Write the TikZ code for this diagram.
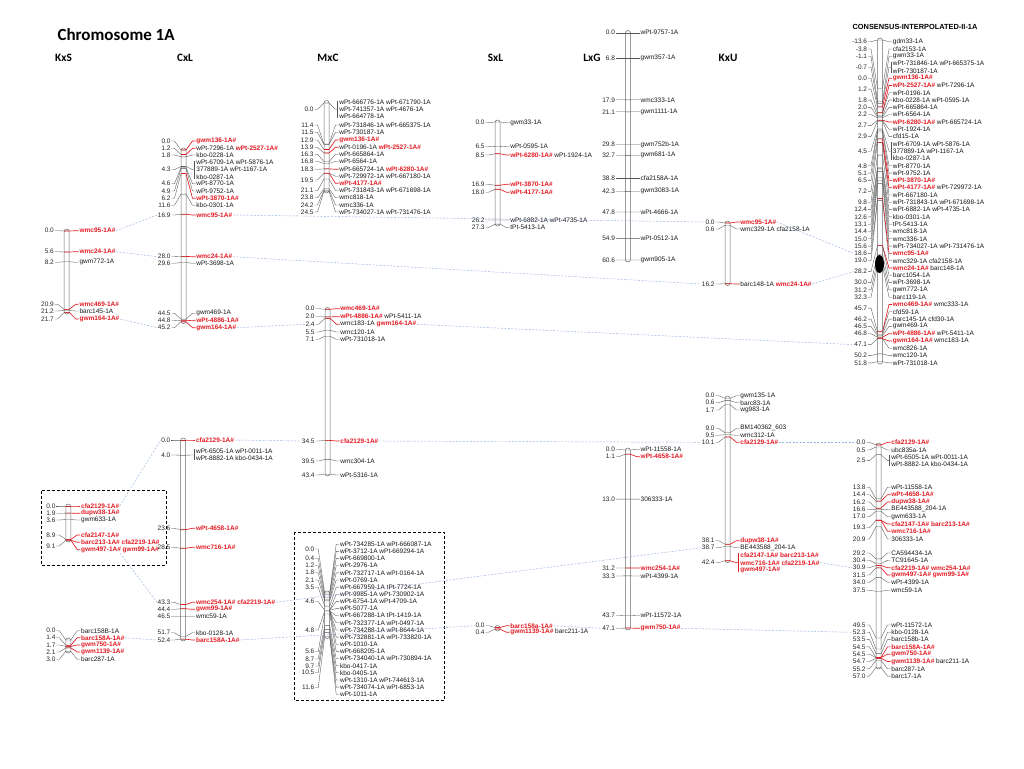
\documentclass[tikz,border=0pt]{standalone}
\usepackage{fontspec}
\setmainfont{Liberation Sans}
\newfontfamily\calibfont{Carlito}
\definecolor{mred}{RGB}{226,28,36}
\definecolor{lkc}{RGB}{85,85,85}
\definecolor{chc}{RGB}{105,105,105}
\definecolor{blu}{RGB}{150,178,222}
\newcommand{\Rm}[1]{\textcolor{mred}{\bfseries #1}}
\newcount\nid
\tikzset{
  posl/.style={anchor=east,font=\fontsize{6.5}{7}\selectfont,inner sep=0.4pt,text=black!85},
  nml/.style={anchor=west,font=\fontsize{6.5}{7}\selectfont,inner sep=0.4pt,text=black!90},
  lk/.style={draw=lkc,line width=0.35pt},
  rlk/.style={draw=mred,line width=0.65pt},
  chr/.style={draw=chc,line width=0.5pt,fill=white,rounded corners=2.4pt},
  link/.style={draw=blu,line width=0.45pt,dash pattern=on 2pt off 1.5pt},
  hdr/.style={font=\calibfont\bfseries\fontsize{11.3}{13}\selectfont},
  dbox/.style={draw=black,line width=0.9pt,dash pattern=on 3pt off 2pt}
}
\newcommand{\setmap}[3]{\def\mX{#1}\def\mT{#2}\def\mS{#3}}
\newcommand{\chrom}[2]{\draw[chr] ({\mX-2.5},#1) rectangle ({\mX+2.5},#2);}
% position label: [opts]{cM}{label y}
\newcommand{\pl}[3][]{%
  \pgfmathsetmacro\tky{\mT+(#2)*\mS}%
  \global\advance\nid by 1
  \draw[lk] ({\mX-12},#3) -- ({\mX-9},#3) -- ({\mX-2.5},\tky) -- ({\mX+2.5},\tky);
  \node[posl,name=p\the\nid,#1] at ({\mX-12.3},#3) {#2};}
% black name: [opts]{cM}{name y}{text}
\newcommand{\nl}[4][]{%
  \pgfmathsetmacro\tky{\mT+(#2)*\mS}%
  \global\advance\nid by 1
  \draw[lk] ({\mX+2.5},\tky) -- ({\mX+9},#3) -- ({\mX+12},#3);
  \node[nml,name=n\the\nid,#1] at ({\mX+12.3},#3) {#4};}
% red name
\newcommand{\rl}[4][]{%
  \pgfmathsetmacro\tky{\mT+(#2)*\mS}%
  \global\advance\nid by 1
  \draw[rlk] ({\mX-2.5},\tky) -- ({\mX+2.5},\tky) -- ({\mX+9},#3) -- ({\mX+12},#3);
  \node[nml,name=n\the\nid,#1] at ({\mX+12.3},#3) {#4};}
% bracket: [style]{cM}{ytop}{ybot}{ymid}
\newcommand{\br}[5][lk]{%
  \pgfmathsetmacro\tky{\mT+(#2)*\mS}%
  \draw[#1] ({\mX-2.5},\tky) -- ({\mX+2.5},\tky) -- ({\mX+9},#5) -- ({\mX+11},#5);
  \draw[#1] ({\mX+11},{#3-1.8}) -- ({\mX+11},{#4+1.8});}
% plain name text
\newcommand{\nt}[3][]{%
  \global\advance\nid by 1
  \node[nml,name=n\the\nid,#1] at ({\mX+12.3},#2) {#3};}
\begin{document}
\begin{tikzpicture}[x=1pt,y=-1pt]
\fill[white] (0,0) rectangle (1024,768);
\useasboundingbox (0,0) rectangle (1024,768);

\node[anchor=west,font=\calibfont\bfseries\fontsize{17}{20}\selectfont] (title) at (54,35) {Chromosome 1A};
\node[hdr] (hKxS) at (63.5,57.5) {KxS};
\node[hdr] (hCxL) at (185,57.5) {CxL};
\node[hdr] (hMxC) at (328,57.5) {MxC};
\node[hdr] (hSxL) at (495.5,57.5) {SxL};
\node[hdr] (hLxG) at (592,57.5) {LxG};
\node[hdr] (hKxU) at (728,57.5) {KxU};
\node[font=\bfseries\fontsize{7.4}{9}\selectfont] (hCON) at (915,26.7) {CONSENSUS-INTERPOLATED-II-1A};

% ---------------- KxS top
\setmap{66.7}{231}{3.75}
\chrom{229}{314}
\pl{0.0}{230.7} \rl[alias=kxs95]{0.0}{230.7}{\Rm{wmc95-1A\#}}
\pl{5.6}{251.7} \rl[alias=kxs24]{5.6}{251.7}{\Rm{wmc24-1A\#}}
\pl{8.2}{262.3} \nl{8.2}{262.3}{gwm772-1A}
\pl{20.9}{304.3} \rl{20.9}{304.3}{\Rm{wmc469-1A\#}}
\pl{21.2}{311} \nl{21.2}{311}{barc145-1A}
\pl{21.7}{319} \rl[alias=kxs164]{21.7}{319}{\Rm{gwm164-1A\#}}

% ---------------- CxL top
\setmap{183.5}{150}{3.8}
\chrom{148}{323.5}
\pl{0.0}{141} \rl{0.0}{141}{\Rm{gwm136-1A\#}}
\pl{1.2}{148.3} \rl{1.2}{148.3}{wPt-7296-1A \Rm{wPt-2527-1A\#}}
\pl{1.8}{155} \nl{1.8}{155}{kbo-0228-1A}
\pl{4.3}{169.7} \br{4.3}{162.3}{176.7}{169.7}
\nt{162.3}{wPt-6709-1A wPt-5876-1A} \nt{169.7}{377889-1A wPt-1167-1A} \nt{176.7}{kbo-0287-1A}
\pl{4.6}{183.7} \nl{4.6}{183.7}{wPt-8770-1A}
\pl{4.9}{191} \nl{4.9}{191}{wPt-9752-1A}
\pl{6.2}{198.3} \rl{6.2}{198.3}{\Rm{wPt-3870-1A\#}}
\pl{11.6}{205.3} \nl{11.6}{205.3}{kbo-0301-1A}
\pl[alias=cxl169]{16.9}{215} \rl[alias=cxl95]{16.9}{215}{\Rm{wmc95-1A\#}}
\pl[alias=cxl280]{28.0}{256.7} \rl[alias=cxl24]{28.0}{256.7}{\Rm{wmc24-1A\#}}
\pl{29.6}{263.3} \nl{29.6}{263.3}{wPt-3698-1A}
\pl{44.5}{313.3} \nl{44.5}{313.3}{gwm469-1A}
\pl{44.8}{320.7} \rl{44.8}{320.7}{\Rm{wPt-4886-1A\#}}
\pl[alias=cxl452]{45.2}{327.7} \rl[alias=cxl164]{45.2}{327.7}{\Rm{gwm164-1A\#}}

% ---------------- MxC top
\setmap{326.5}{103}{3.6}
\chrom{100.5}{193}
\pl{0.0}{109.3} \br{0.0}{102.3}{116.3}{109.3}
\nt{102.3}{wPt-666776-1A wPt-671790-1A} \nt{109.3}{wPt-741357-1A wPt-4676-1A} \nt{116.3}{wPt-664778-1A}
\pl{11.4}{125} \nl{11.4}{125}{wPt-731846-1A wPt-665375-1A}
\pl{11.5}{132.3} \nl{11.5}{132.3}{wPt-730187-1A}
\pl{12.9}{140} \rl{12.9}{140}{\Rm{gwm136-1A\#}}
\pl{13.9}{147.3} \rl{13.9}{147.3}{wPt-0196-1A \Rm{wPt-2527-1A\#}}
\pl{16.3}{154.3} \nl{16.3}{154.3}{wPt-665864-1A}
\pl{16.8}{161.3} \nl{16.8}{161.3}{wPt-6564-1A}
\pl{18.3}{169.3} \rl{18.3}{169.3}{wPt-665724-1A \Rm{wPt-6280-1A\#}}
\pl{19.5}{180} \nl{19.5}{176.3}{wPt-729972-1A wPt-667180-1A} \rl{19.5}{183.3}{\Rm{wPt-4177-1A\#}}
\pl{21.1}{190.7} \nl{21.1}{190.7}{wPt-731843-1A wPt-671698-1A}
\pl{23.8}{197.7} \nl{23.8}{197.7}{wmc818-1A}
\pl{24.2}{205} \nl{24.2}{205}{wmc336-1A}
\pl{24.5}{212} \nl{24.5}{212}{wPt-734027-1A wPt-731476-1A}

% ---------------- MxC middle
\setmap{327.5}{309.3}{3.8}
\chrom{307.5}{476}
\pl{0.0}{308.7} \rl{0.0}{308.7}{\Rm{wmc469-1A\#}}
\pl{2.0}{316.7} \rl{2.0}{316.7}{\Rm{wPt-4886-1A\#} wPt-5411-1A}
\pl[alias=mxc24]{2.4}{324.3} \rl[alias=mxc164]{2.4}{324.3}{wmc183-1A \Rm{gwm164-1A\#}}
\pl{5.5}{332} \nl{5.5}{332}{wmc120-1A}
\pl{7.1}{339.3} \nl{7.1}{339.3}{wPt-731018-1A}
\pl[alias=mxc345]{34.5}{441} \rl[alias=mxccfa]{34.5}{441}{\Rm{cfa2129-1A\#}}
\pl{39.5}{461} \nl{39.5}{461}{wmc304-1A}
\pl{43.4}{475} \nl{43.4}{475}{wPt-5316-1A}

% ---------------- SxL top
\setmap{497.5}{122}{3.74}
\chrom{120}{226}
\pl{0.0}{122.7} \nl{0.0}{122.7}{gwm33-1A}
\pl{6.5}{146.7} \nl{6.5}{146.7}{wPt-0595-1A}
\pl{8.5}{155} \rl{8.5}{155}{\Rm{wPt-6280-1A\#} wPt-1924-1A}
\pl{16.9}{184.3} \rl{16.9}{184.3}{\Rm{wPt-3870-1A\#}}
\pl{18.0}{192.3} \rl{18.0}{192.3}{\Rm{wPt-4177-1A\#}}
\pl{26.2}{220} \nl{26.2}{220}{wPt-6882-1A wPt-4735-1A}
\pl{27.3}{227.7} \nl{27.3}{227.7}{tPt-5413-1A}

% ---------------- LxG top
\setmap{627.8}{32.7}{3.75}
\chrom{30.5}{262}
\pl{0.0}{32.7} \nl{0.0}{32.7}{wPt-9757-1A}
\pl{6.8}{58.2} \nl{6.8}{58.2}{gwm357-1A}
\pl{17.9}{99.8} \nl{17.9}{99.8}{wmc333-1A}
\pl{21.1}{111.8} \nl{21.1}{111.8}{gwm1111-1A}
\pl{29.8}{144.5} \nl{29.8}{144.5}{gwm752b-1A}
\pl{32.7}{155.3} \nl{32.7}{155.3}{gwm681-1A}
\pl{38.8}{178.2} \nl{38.8}{178.2}{cfa2158A-1A}
\pl{42.3}{191.3} \nl{42.3}{191.3}{gwm3083-1A}
\pl{47.8}{212} \nl{47.8}{212}{wPt-4666-1A}
\pl{54.9}{238.6} \nl{54.9}{238.6}{wPt-0512-1A}
\pl{60.6}{260} \nl{60.6}{260}{gwm905-1A}

% ---------------- KxU top
\setmap{727.5}{223}{3.75}
\chrom{221}{285.5}
\pl[alias=kxu00]{0.0}{222} \rl[alias=kxu95]{0.0}{222}{\Rm{wmc95-1A\#}}
\pl{0.6}{229} \nl{0.6}{229}{wmc329-1A cfa2158-1A}
\pl[alias=kxu162]{16.2}{284} \rl[alias=kxu24]{16.2}{284}{barc148-1A \Rm{wmc24-1A\#}}

% ---------------- Consensus top
\setmap{880}{106.9}{4.92}
\chrom{38}{364}
\pl{-13.6}{41.7} \nl{-13.6}{41.7}{gdm33-1A}
\pl{-3.8}{49.0} \nl{-3.8}{49.0}{cfa2153-1A}
\pl{-1.1}{56.3} \nl{-1.1}{56.3}{gwm33-1A}
\pl{-0.7}{67.25} \br{-0.7}{63.6}{70.9}{67.25}
\nt{63.6}{wPt-731846-1A wPt-665375-1A} \nt{70.9}{wPt-730187-1A}
\pl{0.0}{78.2} \rl{0.0}{78.2}{\Rm{gwm136-1A\#}}
\pl{1.2}{89.15} \rl{1.2}{85.5}{\Rm{wPt-2527-1A\#} wPt-7296-1A} \nl{1.2}{92.8}{wPt-0196-1A}
\pl{1.8}{100.1} \nl{1.8}{100.1}{kbo-0228-1A wPt-0595-1A}
\pl{2.0}{107.4} \nl{2.0}{107.4}{wPt-665864-1A}
\pl{2.2}{114.7} \nl{2.2}{114.7}{wPt-6564-1A}
\pl{2.7}{125.65} \rl{2.7}{122.0}{\Rm{wPt-6280-1A\#} wPt-665724-1A} \nl{2.7}{129.3}{wPt-1924-1A}
\pl{2.9}{136.6} \nl{2.9}{136.6}{cfd15-1A}
\pl{4.5}{151.2} \br{4.5}{143.9}{158.5}{151.2}
\nt{143.9}{wPt-6709-1A wPt-5876-1A} \nt{151.2}{377889-1A wPt-1167-1A} \nt{158.5}{kbo-0287-1A}
\pl{4.8}{165.8} \nl{4.8}{165.8}{wPt-8770-1A}
\pl{5.1}{173.1} \nl{5.1}{173.1}{wPt-9752-1A}
\pl{6.5}{180.4} \rl{6.5}{180.4}{\Rm{wPt-3870-1A\#}}
\pl{7.2}{191.35} \rl{7.2}{187.7}{\Rm{wPt-4177-1A\#} wPt-729972-1A} \nl{7.2}{195.0}{wPt-667180-1A}
\pl{9.8}{202.3} \nl{9.8}{202.3}{wPt-731843-1A wPt-671698-1A}
\pl{12.4}{209.6} \nl{12.4}{209.6}{wPt-6882-1A wPt-4735-1A}
\pl{12.6}{216.9} \nl{12.6}{216.9}{kbo-0301-1A}
\pl{13.1}{224.2} \nl{13.1}{224.2}{tPt-5413-1A}
\pl{14.4}{231.5} \nl{14.4}{231.5}{wmc818-1A}
\pl{15.0}{238.8} \nl{15.0}{238.8}{wmc336-1A}
\pl{15.6}{246.1} \nl{15.6}{246.1}{wPt-734027-1A wPt-731476-1A}
\pl[alias=con186]{18.6}{253.4} \rl{18.6}{253.4}{\Rm{wmc95-1A\#}}
\pl{19.0}{260.7} \nl{19.0}{260.7}{wmc329-1A cfa2158-1A}
\pl[alias=con282]{28.2}{271.65} \rl{28.2}{268.0}{\Rm{wmc24-1A\#} barc148-1A} \nl{28.2}{275.3}{barc1054-1A}
\pl{30.0}{282.6} \nl{30.0}{282.6}{wPt-3698-1A}
\pl{31.2}{289.9} \nl{31.2}{289.9}{gwm772-1A}
\pl{32.3}{297.2} \nl{32.3}{297.2}{barc119-1A}
\pl{45.7}{308.15} \rl{45.7}{304.5}{\Rm{wmc469-1A\#} wmc333-1A} \nl{45.7}{311.8}{cfd59-1A}
\pl{46.2}{319.1} \nl{46.2}{319.1}{barc145-1A cfd30-1A}
\pl{46.5}{326.4} \nl{46.5}{326.4}{gwm469-1A}
\pl{46.8}{333.7} \rl{46.8}{333.7}{\Rm{wPt-4886-1A\#} wPt-5411-1A}
\pl[alias=con471]{47.1}{344.65} \rl{47.1}{341.0}{\Rm{gwm164-1A\#} wmc183-1A} \nl{47.1}{348.3}{wmc826-1A}
\pl{50.2}{355.6} \nl{50.2}{355.6}{wmc120-1A}
\pl{51.8}{362.9} \nl{51.8}{362.9}{wPt-731018-1A}
\fill[black] (879.5,264) ellipse [x radius=4.5pt, y radius=9pt];

% ---------------- KxS boxed
\draw[dbox] (41,490.7) rectangle (166,565);
\setmap{68.3}{506}{3.75}
\chrom{504}{542}
\pl{0.0}{506} \rl[alias=kxbcfa]{0.0}{506}{\Rm{cfa2129-1A\#}}
\pl{1.9}{513.3} \rl{1.9}{513.3}{\Rm{dupw38-1A\#}}
\pl{3.6}{520} \nl{3.6}{520}{gwm633-1A}
\pl{8.9}{535} \rl{8.9}{535}{\Rm{cfa2147-1A\#}}
\pl{9.1}{546} \rl{9.1}{542.3}{\Rm{barc213-1A\# cfa2219-1A\#}} \rl[alias=kxb99]{9.1}{549.7}{\Rm{gwm497-1A\# gwm99-1A\#}}

% ---------------- KxS lowest
\setmap{68.3}{640}{3.75}
\chrom{638}{653}
\pl{0.0}{630.7} \nl{0.0}{630.7}{barc158B-1A}
\pl{1.4}{637.7} \rl[alias=kxl158]{1.4}{637.7}{\Rm{barc158A-1A\#}}
\pl{1.7}{645} \rl{1.7}{645}{\Rm{gwm750-1A\#}}
\pl{2.1}{652} \rl{2.1}{652}{\Rm{gwm1139-1A\#}}
\pl{3.0}{659.3} \nl{3.0}{659.3}{barc287-1A}

% ---------------- CxL lower
\setmap{183.2}{440}{3.8}
\chrom{438}{641}
\pl[alias=cxl00]{0.0}{440} \rl[alias=cxlcfa]{0.0}{440}{\Rm{cfa2129-1A\#}}
\pl{4.0}{455} \br{4.0}{451}{458.3}{455}
\nt{451}{wPt-6505-1A wPt-0011-1A} \nt{458.3}{wPt-8882-1A kbo-0434-1A}
\pl{23.6}{528.3} \rl{23.6}{528.3}{\Rm{wPt-4658-1A\#}}
\pl{28.5}{547.3} \rl{28.5}{547.3}{\Rm{wmc716-1A\#}}
\pl[alias=cxl433]{43.3}{602.3} \rl[alias=cxl254]{43.3}{602.3}{\Rm{wmc254-1A\# cfa2219-1A\#}}
\pl{44.4}{609.3} \rl{44.4}{609.3}{\Rm{gwm99-1A\#}}
\pl{46.5}{616.7} \nl{46.5}{616.7}{wmc59-1A}
\pl{51.7}{632.7} \nl{51.7}{632.7}{kbo-0128-1A}
\pl[alias=cxl524]{52.4}{640} \rl[alias=cxl158]{52.4}{640}{\Rm{barc158A-1A\#}}

% ---------------- MxC boxed
\draw[dbox] (294,532.3) rectangle (444,700.7);
\setmap{327.2}{593}{3.75}
\chrom{591}{638.5}
\pl{0.0}{549} \pl{0.4}{558.3} \pl{1.2}{565.7} \pl{1.8}{572.7} \pl{2.1}{580} \pl{3.5}{587.3}
\pl{4.6}{601.7} \pl{4.8}{630} \pl{5.6}{651.7} \pl{8.7}{659} \pl{9.7}{666} \pl{10.5}{672.7} \pl{11.6}{687.7}
\nl{0.0}{544.3}{wPt-734285-1A wPt-666087-1A}
\nl{0.0}{551.4}{wPt-3712-1A wPt-669294-1A}
\nl{0.4}{558.6}{wPt-669800-1A}
\nl{1.2}{565.7}{wPt-2976-1A}
\nl{1.8}{572.9}{wPt-732717-1A wPt-0164-1A}
\nl{2.1}{580.0}{wPt-0769-1A}
\nl{3.5}{587.1}{wPt-667959-1A tPt-7724-1A}
\nl{4.6}{594.3}{wPt-9985-1A wPt-730902-1A}
\nl{4.6}{601.4}{wPt-6754-1A wPt-4709-1A}
\nl{4.6}{608.6}{wPt-5077-1A}
\nl{4.8}{615.7}{wPt-667288-1A tPt-1419-1A}
\nl{4.8}{622.8}{wPt-732377-1A wPt-0497-1A}
\nl{4.8}{630.0}{wPt-734288-1A wPt-8644-1A}
\nl{4.8}{637.1}{wPt-732881-1A wPt-733820-1A}
\nl{4.8}{644.3}{wPt-1010-1A}
\nl{5.6}{651.4}{wPt-668205-1A}
\nl{8.7}{658.5}{wPt-734040-1A wPt-730894-1A}
\nl{9.7}{665.7}{kbo-0417-1A}
\nl{10.5}{672.8}{kbo-0405-1A}
\nl{11.6}{680.0}{wPt-1310-1A wPt-744613-1A}
\nl{11.6}{687.1}{wPt-734074-1A wPt-6853-1A}
\nl{11.6}{694.2}{wPt-1011-1A}

% ---------------- SxL lower
\setmap{497.5}{627.5}{3.75}
\chrom{625.5}{631}
\pl[alias=sxl00]{0.0}{625.7} \rl[alias=sxl158]{0.0}{625.7}{\Rm{barc158a-1A\#}}
\pl{0.4}{632.3} \rl{0.4}{632.3}{\Rm{gwm1139-1A\#} barc211-1A}

% ---------------- LxG lower
\setmap{627.8}{450}{3.78}
\chrom{448}{630}
\pl{0.0}{449.3} \nl{0.0}{449.3}{wPt-11558-1A}
\pl{1.1}{456.7} \rl{1.1}{456.7}{\Rm{wPt-4658-1A\#}}
\pl{13.0}{499.1} \nl{13.0}{499.1}{306333-1A}
\pl{31.2}{568} \rl{31.2}{568}{\Rm{wmc254-1A\#}}
\pl{33.3}{576} \nl{33.3}{576}{wPt-4399-1A}
\pl{43.7}{615.5} \nl{43.7}{615.5}{wPt-11572-1A}
\pl[alias=lxg471]{47.1}{628.3} \rl[alias=lxg750]{47.1}{628.3}{\Rm{gwm750-1A\#}}

% ---------------- KxU lower
\setmap{727.5}{398.3}{3.83}
\chrom{396}{562.5}
\pl{0.0}{395.7} \nl{0.0}{395.7}{gwm135-1A}
\pl{0.6}{402.7} \nl{0.6}{402.7}{barc83-1A}
\pl{1.7}{410} \nl{1.7}{410}{wg983-1A}
\pl{9.0}{428.3} \nl{9.0}{428.3}{BM140362\_603}
\pl{9.5}{435.3} \nl{9.5}{435.3}{wmc312-1A}
\pl[alias=kxu101]{10.1}{442.3} \rl[alias=kxucfa]{10.1}{442.3}{\Rm{cfa2129-1A\#}}
\pl{38.1}{540.7} \rl{38.1}{540.7}{\Rm{dupw38-1A\#}}
\pl[alias=kxu387]{38.7}{547.7} \nl{38.7}{547.7}{BE443588\_204-1A}
\pl{42.4}{562.7} \br[rlk]{42.4}{555}{570}{562.7}
\nt{555}{\Rm{cfa2147-1A\# barc213-1A\#}} \nt[alias=kxu716]{562.7}{\Rm{wmc716-1A\# cfa2219-1A\#}} \nt{570}{\Rm{gwm497-1A\#}}

% ---------------- Consensus lower
\setmap{878.5}{445}{3.9}
\chrom{443}{669}
\pl[alias=con00]{0.0}{442.3} \rl{0.0}{442.3}{\Rm{cfa2129-1A\#}}
\pl{0.5}{450} \nl{0.5}{450}{ubc835a-1A}
\pl{2.5}{460.65} \br{2.5}{457}{464.3}{460.65}
\nt{457}{wPt-6505-1A wPt-0011-1A} \nt{464.3}{wPt-8882-1A kbo-0434-1A}
\pl{13.8}{487.3} \nl{13.8}{487.3}{wPt-11558-1A}
\pl{14.4}{494.7} \rl{14.4}{494.7}{\Rm{wPt-4658-1A\#}}
\pl{16.2}{502} \rl{16.2}{502}{\Rm{dupw38-1A\#}}
\pl{16.6}{509.3} \nl{16.6}{509.3}{BE443588\_204-1A}
\pl{17.0}{516.7} \nl{17.0}{516.7}{gwm633-1A}
\pl{19.3}{527.7} \rl{19.3}{524}{\Rm{cfa2147-1A\# barc213-1A\#}} \rl{19.3}{531.3}{\Rm{wmc716-1A\#}}
\pl{20.9}{539} \nl{20.9}{539}{306333-1A}
\pl{29.2}{553} \nl{29.2}{553}{CA594434-1A}
\pl{30.4}{560.3} \nl{30.4}{560.3}{TC91645-1A}
\pl[alias=con309]{30.9}{567.7} \rl{30.9}{567.7}{\Rm{cfa2219-1A\# wmc254-1A\#}}
\pl{31.5}{575} \rl{31.5}{575}{\Rm{gwm497-1A\# gwm99-1A\#}}
\pl{34.0}{582.3} \nl{34.0}{582.3}{wPt-4399-1A}
\pl{37.5}{590.3} \nl{37.5}{590.3}{wmc59-1A}
\pl{49.5}{625} \nl{49.5}{625}{wPt-11572-1A}
\pl[alias=con523]{52.3}{632.3} \nl{52.3}{632.3}{kbo-0128-1A}
\pl{53.5}{639.6} \nl{53.5}{639.6}{barc158b-1A}
\pl{54.5}{646.9} \rl{54.5}{646.9}{\Rm{barc158A-1A\#}}
\pl{54.5}{654.2} \rl{54.5}{654.2}{\Rm{gwm750-1A\#}}
\pl{54.7}{661.5} \rl{54.7}{661.5}{\Rm{gwm1139-1A\#} barc211-1A}
\pl{55.2}{668.8} \nl{55.2}{668.8}{barc287-1A}
\pl{57.0}{676.1} \nl{57.0}{676.1}{barc17-1A}

% ---------------- dashed links between maps
\draw[link] (kxs95.east) -- (cxl169.west);
\draw[link] (kxs24.east) -- (cxl280.west);
\draw[link] (kxs164.east) -- (cxl452.west);
\draw[link] (cxl95.east) -- (kxu00.west);
\draw[link] (cxl24.east) -- (kxu162.west);
\draw[link] (cxl164.east) -- (mxc24.west);
\draw[link] (mxc164.east) -- (con471.west);
\draw[link] (kxu95.east) -- (con186.west);
\draw[link] (kxu24.east) -- (con282.west);
\draw[link] (cxlcfa.east) -- (mxc345.west);
\draw[link] (mxccfa.east) -- (kxu101.west);
\draw[link] (kxucfa.east) -- (con00.west);
\draw[link] (kxbcfa.east) -- (cxl00.west);
\draw[link] (kxb99.south) -- (cxl433.west);
\draw[link] (kxl158.east) -- (cxl524.west);
\draw[link] (cxl254.east) -- (kxu387.west);
\draw[link] (cxl158.east) -- (sxl00.west);
\draw[link] (sxl158.east) -- (lxg471.west);
\draw[link] (lxg750.east) -- (con523.west);
\draw[link] (kxu716.east) -- (con309.west);
\end{tikzpicture}
\end{document}
